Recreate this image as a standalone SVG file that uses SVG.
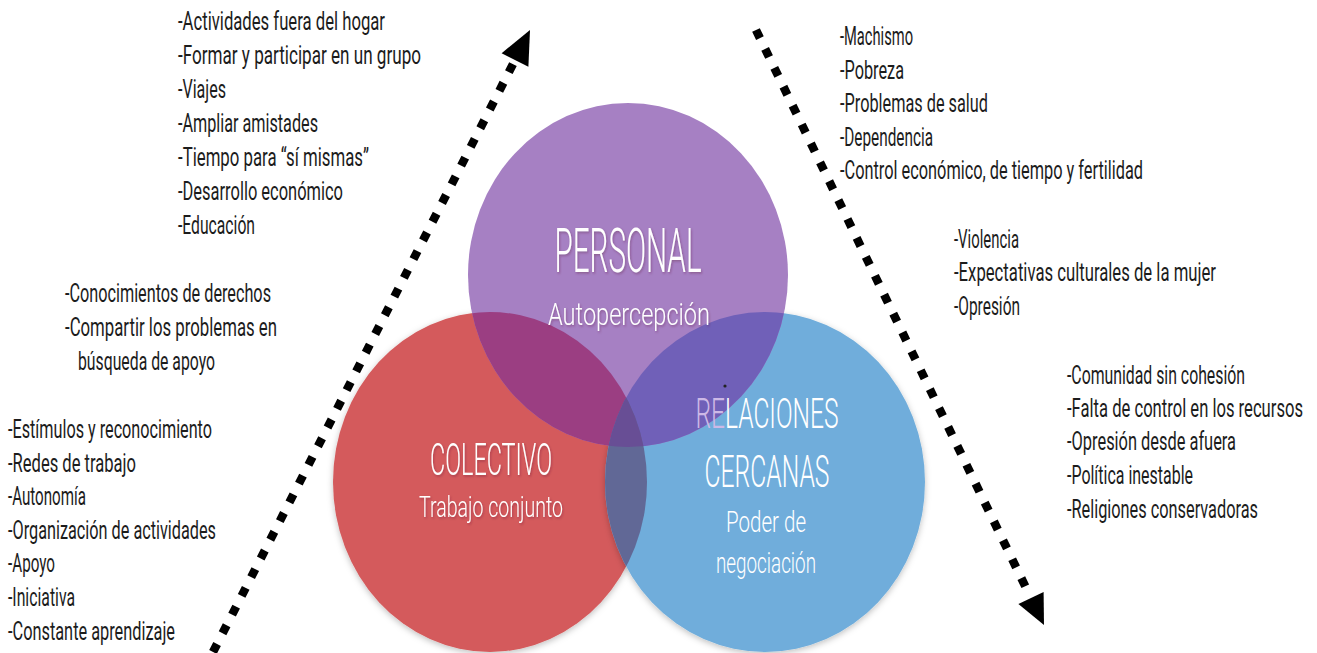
<svg xmlns="http://www.w3.org/2000/svg" xmlns:xlink="http://www.w3.org/1999/xlink" width="1317" height="653" viewBox="0 0 1317 653">
<style>
.lst{font-family:"Roboto","Liberation Sans",sans-serif;font-size:26px;fill:#1c1c1c;}
.lbl{font-family:"Roboto","Liberation Sans",sans-serif;font-weight:300;fill:#ffffff;text-anchor:middle;}
.dots{fill:none;stroke:#000;stroke-width:8.5;stroke-dasharray:9 12;}
.head{fill:#000;}
</style>
<defs>
<ellipse id="eP" cx="628" cy="275" rx="160" ry="172"/>
<ellipse id="eR" cx="490" cy="482" rx="157" ry="170"/>
<ellipse id="eB" cx="765" cy="482" rx="160" ry="170"/>
<clipPath id="cP"><use xlink:href="#eP"/></clipPath>
<clipPath id="cB"><use xlink:href="#eB"/></clipPath>
<filter id="sh" x="-10%" y="-10%" width="120%" height="120%">
<feDropShadow dx="0" dy="2" stdDeviation="3" flood-color="#000" flood-opacity="0.25"/>
</filter>
<filter id="ts" x="-10%" y="-20%" width="120%" height="140%">
<feDropShadow dx="1" dy="1.5" stdDeviation="1.2" flood-color="#5a1a30" flood-opacity="0.35"/>
</filter>
</defs>
<rect width="1317" height="653" fill="#ffffff"/>

<g id="connectors">
<g id="arrow-up">
<path class="dots" d="M213,652 L513,64"/>
<polygon class="head" points="530,30 528.4,66.8 501.6,53.2"/>
</g>
<g id="arrow-down">
<path class="dots" d="M756,30 L1029,594"/>
<polygon class="head" points="1044,625 1043.6,591.9 1018.4,604.1"/>
</g>
</g>

<g id="circles">
<use xlink:href="#eR" fill="#d45a5b" filter="url(#sh)"/>
<use xlink:href="#eB" fill="#70addb" filter="url(#sh)"/>
<use xlink:href="#eP" fill="#a680c3"/>
<use xlink:href="#eR" fill="#9b3e82" clip-path="url(#cP)"/>
<use xlink:href="#eB" fill="#7060b8" clip-path="url(#cP)"/>
<use xlink:href="#eR" fill="#616896" clip-path="url(#cB)"/>
<g clip-path="url(#cB)"><use xlink:href="#eR" fill="#684e95" clip-path="url(#cP)"/></g>
</g>

<g id="node-personal" filter="url(#ts)">
<text class="lbl" x="628" y="272" font-size="62" textLength="147" lengthAdjust="spacingAndGlyphs">PERSONAL</text>
<text class="lbl" x="629" y="325" font-size="31" textLength="162" lengthAdjust="spacingAndGlyphs">Autopercepción</text>
</g>
<g id="node-colectivo" filter="url(#ts)">
<text class="lbl" x="491" y="475" font-size="44" textLength="122" lengthAdjust="spacingAndGlyphs">COLECTIVO</text>
<text class="lbl" x="491" y="517" font-size="30" textLength="144" lengthAdjust="spacingAndGlyphs">Trabajo conjunto</text>
</g>
<g id="node-relaciones">
<circle cx="725" cy="386" r="1.6" fill="#222"/>
<text class="lbl" x="767" y="428" font-size="43" textLength="143" lengthAdjust="spacingAndGlyphs"><tspan fill="#cdb9e6">RE</tspan>LACIONES</text>
<text class="lbl" x="767" y="487" font-size="44" textLength="125" lengthAdjust="spacingAndGlyphs">CERCANAS</text>
<text class="lbl" x="766" y="532" font-size="30" textLength="80" lengthAdjust="spacingAndGlyphs">Poder de</text>
<text class="lbl" x="766" y="573" font-size="30" textLength="100" lengthAdjust="spacingAndGlyphs">negociación</text>
</g>

<g id="list-personal-positive">
<text class="lst" x="178" y="30" textLength="207" lengthAdjust="spacingAndGlyphs">-Actividades  fuera  del hogar</text>
<text class="lst" x="178" y="64" textLength="243" lengthAdjust="spacingAndGlyphs">-Formar  y  participar  en un grupo</text>
<text class="lst" x="178" y="98" textLength="48" lengthAdjust="spacingAndGlyphs">-Viajes</text>
<text class="lst" x="178" y="132" textLength="140" lengthAdjust="spacingAndGlyphs">-Ampliar  amistades</text>
<text class="lst" x="178" y="166" textLength="191" lengthAdjust="spacingAndGlyphs">-Tiempo  para  “sí mismas”</text>
<text class="lst" x="178" y="200" textLength="165" lengthAdjust="spacingAndGlyphs">-Desarrollo  económico</text>
<text class="lst" x="178" y="234" textLength="77" lengthAdjust="spacingAndGlyphs">-Educación</text>
</g>
<g id="list-relaciones-positive">
<text class="lst" x="65" y="302" textLength="206" lengthAdjust="spacingAndGlyphs">-Conocimientos  de derechos</text>
<text class="lst" x="65" y="336" textLength="212" lengthAdjust="spacingAndGlyphs">-Compartir  los problemas  en</text>
<text class="lst" x="78" y="370" textLength="137" lengthAdjust="spacingAndGlyphs">búsqueda  de apoyo</text>
</g>
<g id="list-colectivo-positive">
<text class="lst" x="8" y="438" textLength="204" lengthAdjust="spacingAndGlyphs">-Estímulos  y reconocimiento</text>
<text class="lst" x="8" y="471.6" textLength="128" lengthAdjust="spacingAndGlyphs">-Redes  de trabajo</text>
<text class="lst" x="8" y="505.2" textLength="78" lengthAdjust="spacingAndGlyphs">-Autonomía</text>
<text class="lst" x="8" y="538.8" textLength="208" lengthAdjust="spacingAndGlyphs">-Organización  de actividades</text>
<text class="lst" x="8" y="572.4" textLength="47" lengthAdjust="spacingAndGlyphs">-Apoyo</text>
<text class="lst" x="8" y="606" textLength="67" lengthAdjust="spacingAndGlyphs">-Iniciativa</text>
<text class="lst" x="8" y="639.6" textLength="167" lengthAdjust="spacingAndGlyphs">-Constante  aprendizaje</text>
</g>
<g id="list-personal-negative">
<text class="lst" x="840" y="45" textLength="73" lengthAdjust="spacingAndGlyphs">-Machismo</text>
<text class="lst" x="840" y="79" textLength="64" lengthAdjust="spacingAndGlyphs">-Pobreza</text>
<text class="lst" x="840" y="112" textLength="148" lengthAdjust="spacingAndGlyphs">-Problemas  de salud</text>
<text class="lst" x="840" y="146" textLength="93" lengthAdjust="spacingAndGlyphs">-Dependencia</text>
<text class="lst" x="840" y="179" textLength="303" lengthAdjust="spacingAndGlyphs">-Control  económico,  de tiempo  y fertilidad</text>
</g>
<g id="list-relaciones-negative">
<text class="lst" x="954" y="248" textLength="65" lengthAdjust="spacingAndGlyphs">-Violencia</text>
<text class="lst" x="954" y="281" textLength="262" lengthAdjust="spacingAndGlyphs">-Expectativas  culturales  de la mujer</text>
<text class="lst" x="954" y="315" textLength="66" lengthAdjust="spacingAndGlyphs">-Opresión</text>
</g>
<g id="list-colectivo-negative">
<text class="lst" x="1067" y="384" textLength="178" lengthAdjust="spacingAndGlyphs">-Comunidad  sin cohesión</text>
<text class="lst" x="1067" y="417" textLength="236" lengthAdjust="spacingAndGlyphs">-Falta  de control  en los recursos</text>
<text class="lst" x="1067" y="450" textLength="169" lengthAdjust="spacingAndGlyphs">-Opresión  desde afuera</text>
<text class="lst" x="1067" y="484" textLength="126" lengthAdjust="spacingAndGlyphs">-Política  inestable</text>
<text class="lst" x="1067" y="518" textLength="191" lengthAdjust="spacingAndGlyphs">-Religiones  conservadoras</text>
</g>
</svg>
